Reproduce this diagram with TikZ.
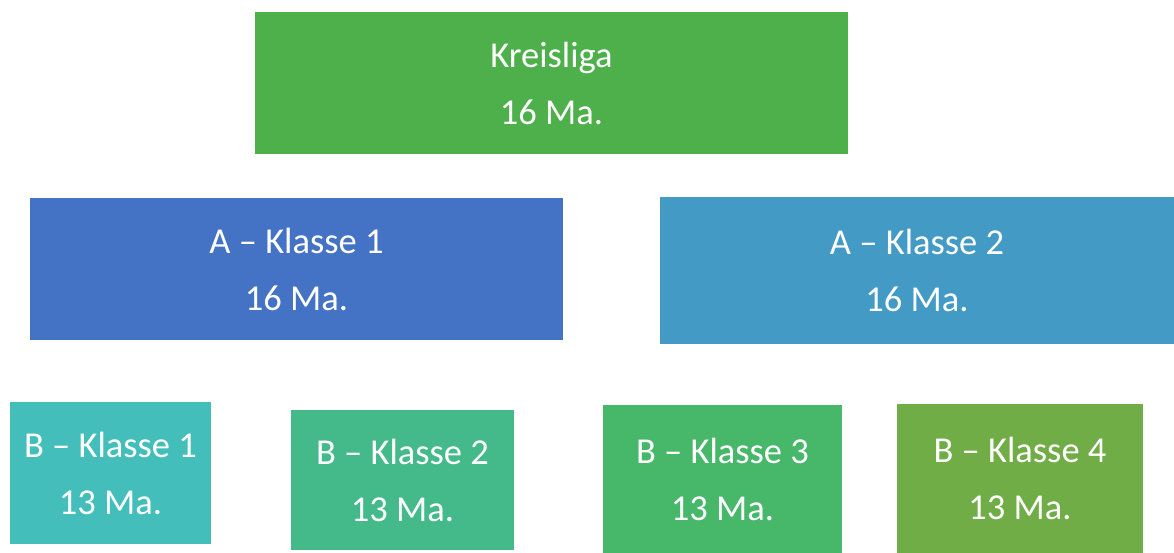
\documentclass[tikz,border=0pt]{standalone}
\usepackage{fontspec}
\setmainfont{Carlito}
\definecolor{cKreis}{HTML}{4DB04B}
\definecolor{cAone}{HTML}{4472C4}
\definecolor{cAtwo}{HTML}{439AC4}
\definecolor{cBone}{HTML}{44BEBB}
\definecolor{cBtwo}{HTML}{44BA8B}
\definecolor{cBthree}{HTML}{47B76A}
\definecolor{cBfour}{HTML}{70AD47}
\begin{document}
\begin{tikzpicture}[x=1pt,y=-1pt,
  box/.style={rectangle, inner sep=0pt, draw=none, text=white, align=center,
    font=\fontsize{36.5}{57}\selectfont}]
\useasboundingbox[fill=white] (0,0) rectangle (1174,552);
\node[box, fill=cKreis, minimum width=593pt, minimum height=142pt] (kreis) at (551.5,83) {Kreisliga\\16 Ma.};
\node[box, fill=cAone, minimum width=533pt, minimum height=142pt] (a1) at (296.5,269) {A – Klasse 1\\16 Ma.};
\node[box, fill=cAtwo, minimum width=514pt, minimum height=147pt] (a2) at (917,270.5) {A – Klasse 2\\16 Ma.};
\node[box, fill=cBone, minimum width=201pt, minimum height=142pt] (b1) at (110.5,473) {B – Klasse 1\\13 Ma.};
\node[box, fill=cBtwo, minimum width=223pt, minimum height=140pt] (b2) at (402.5,480) {B – Klasse 2\\13 Ma.};
\node[box, fill=cBthree, minimum width=239pt, minimum height=148pt] (b3) at (722.5,479) {B – Klasse 3\\13 Ma.};
\node[box, fill=cBfour, minimum width=246pt, minimum height=149pt] (b4) at (1020,478) {B – Klasse 4\\13 Ma.};
\end{tikzpicture}
\end{document}
